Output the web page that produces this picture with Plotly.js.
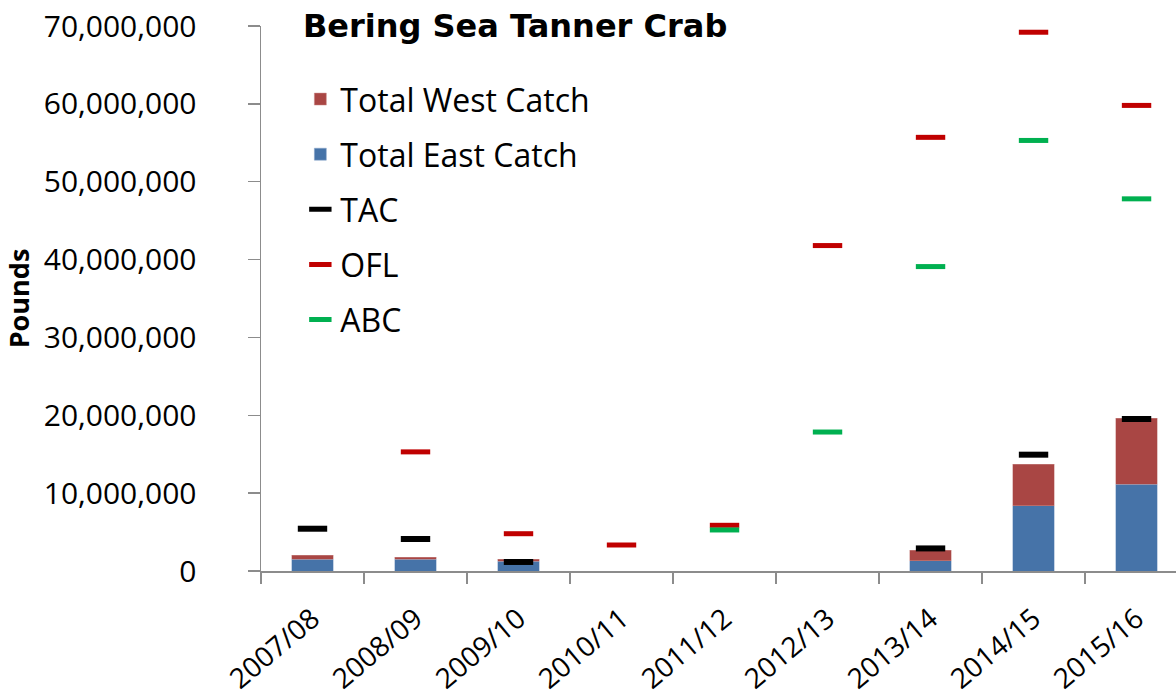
<!DOCTYPE html>
<html>
<head>
<meta charset="utf-8">
<script src="https://cdn.plot.ly/plotly-3.0.1.min.js"></script>
<style>html,body{margin:0;padding:0;background:#fff;}#chart{width:1176px;height:698px;}</style>
</head>
<body>
<div id="chart"></div>
<script>
var seasons = ["2007/08","2008/09","2009/10","2010/11","2011/12","2012/13","2013/14","2014/15","2015/16"];
var eastCatch = [1500000, 1500000, 1280000, null, null, null, 1330000, 8390000, 11130000];
var westCatch = [550000, 260000, 220000, null, null, null, 1330000, 5350000, 8520000];
var tac = [5430000, 4110000, 1160000, null, null, null, 2900000, 14940000, 19520000];
var ofl = [null, 15300000, 4790000, 3340000, 5870000, 41800000, 55700000, 69200000, 59800000];
var abc = [null, null, null, null, 5270000, 17850000, 39100000, 55300000, 47800000];
var yTicks = [0, 10000000, 20000000, 30000000, 40000000, 50000000, 60000000, 70000000];

var FONT = "Open Sans, Noto Sans, sans-serif";
var TITLE_FONT = "DejaVu Sans, Open Sans, sans-serif";
function dash(name, y, color, rank, w) {
  return {
    type: "scatter", mode: "markers", name: name, x: seasons, y: y,
    legendgroup: name, legendrank: rank,
    marker: {symbol: "line-ew", size: 21, color: color, line: {color: color, width: w}},
    hoverinfo: "x+y+name"
  };
}
var data = [
  {type: "bar", name: "Total East Catch", x: seasons, y: eastCatch, width: 0.4,
   legendgroup: "east", legendrank: 2,
   marker: {color: "#4673A8", line: {color: "#8FA9CC", width: 0.5}}},
  {type: "bar", name: "Total West Catch", x: seasons, y: westCatch, width: 0.4,
   legendgroup: "west", legendrank: 1,
   marker: {color: "#A94644", line: {color: "#CC8F8E", width: 0.5}}},
  dash("TAC", tac, "#000000", 3, 6),
  dash("OFL", ofl, "#C00000", 4, 5),
  dash("ABC", abc, "#00B050", 5, 5)
];
var layout = {
  width: 1176, height: 698,
  margin: {l: 261, r: 0, t: 26, b: 127},
  paper_bgcolor: "#ffffff", plot_bgcolor: "#ffffff",
  barmode: "stack",
  showlegend: true,
  font: {family: FONT, color: "#000000"},
  title: {text: "<b>Bering Sea Tanner Crab</b>", x: 0.438, xanchor: "center", xref: "container",
          y: 0.963, yanchor: "middle", yref: "container",
          font: {family: TITLE_FONT, size: 32, color: "#000000"}},
  xaxis: {type: "category", range: [-0.5, 8.383], showline: true, linecolor: "#8C8C8C", linewidth: 1.5,
          ticks: "outside", tickson: "boundaries", ticklen: 11, tickcolor: "#8C8C8C", tickwidth: 1.5,
          tickangle: -40, ticklabelstandoff: 19,
          tickfont: {family: FONT, size: 28, color: "#000000"},
          showgrid: false, zeroline: false, fixedrange: true},
  yaxis: {range: [0, 70000000], tickvals: yTicks, tickformat: ",d",
          showline: true, linecolor: "#8C8C8C", linewidth: 1.5,
          ticks: "outside", ticklen: 12, tickcolor: "#8C8C8C", tickwidth: 1.5,
          ticklabelstandoff: 45,
          tickfont: {family: FONT, size: 30, color: "#000000"},
          showgrid: false, zeroline: false, fixedrange: true,
          title: {text: "<b>Pounds</b>", standoff: 14, font: {family: FONT, size: 27, color: "#000000"}}},
  legend: {x: 0.043, y: 0.916, xanchor: "left", yanchor: "top", traceorder: "grouped", tracegroupgap: 10.5,
           bgcolor: "rgba(0,0,0,0)", borderwidth: 0,
           font: {family: FONT, size: 32, color: "#000000"}}
};
Plotly.newPlot("chart", data, layout, {displayModeBar: false, staticPlot: true});
</script>
</body>
</html>
